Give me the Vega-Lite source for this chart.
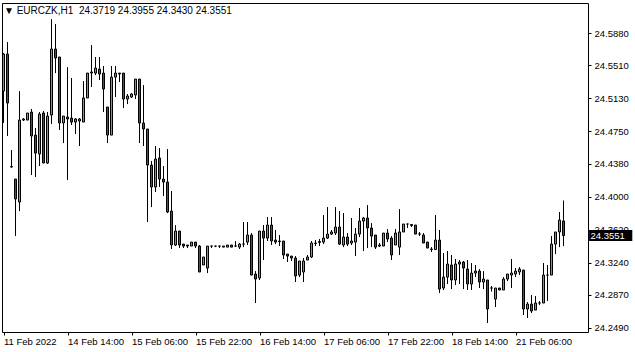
{
 "$schema": "https://vega.github.io/schema/vega-lite/v6.json",
 "width": 586, "height": 329,
 "autosize": {"type": "none"},
 "padding": {"left": 2, "top": 3, "right": 47, "bottom": 20},
 "background": "white",
 "config": {"view": {"stroke": "black", "strokeWidth": 1}, "font": "Liberation Sans", "scale": {"continuousPadding": 0}},
 "title": {"text": "▼ EURCZK,H1\u00a0\u00a024.3719 24.3955 24.3430 24.3551", "anchor": "start", "frame": "group", "offset": -13, "fontSize": 10, "fontWeight": "normal", "color": "black", "dx": 2},
 "data": {"values": [
{"i":0,"o":24.5215,"h":24.5653,"l":24.4847,"c":24.5641},
{"i":1,"o":24.5641,"h":24.5779,"l":24.4697,"c":24.5077},
{"i":2,"o":24.4340,"h":24.4536,"l":24.4334,"c":24.4345},
{"i":3,"o":24.4202,"h":24.4202,"l":24.3545,"c":24.3972},
{"i":4,"o":24.3937,"h":24.5215,"l":24.3833,"c":24.4881},
{"i":5,"o":24.4881,"h":24.4904,"l":24.4870,"c":24.4893},
{"i":6,"o":24.4881,"h":24.4962,"l":24.4881,"c":24.4962},
{"i":7,"o":24.4973,"h":24.5008,"l":24.4248,"c":24.4697},
{"i":8,"o":24.4708,"h":24.4789,"l":24.4225,"c":24.4501},
{"i":9,"o":24.4490,"h":24.4973,"l":24.4352,"c":24.4950},
{"i":10,"o":24.4962,"h":24.4985,"l":24.4386,"c":24.4386},
{"i":11,"o":24.4386,"h":24.4973,"l":24.4375,"c":24.4927},
{"i":12,"o":24.4939,"h":24.6044,"l":24.4835,"c":24.5699},
{"i":13,"o":24.5699,"h":24.5987,"l":24.5422,"c":24.5595},
{"i":14,"o":24.5607,"h":24.5607,"l":24.4766,"c":24.4847},
{"i":15,"o":24.4847,"h":24.4927,"l":24.4616,"c":24.4927},
{"i":16,"o":24.4916,"h":24.5491,"l":24.4190,"c":24.4893},
{"i":17,"o":24.4904,"h":24.5365,"l":24.4824,"c":24.4858},
{"i":18,"o":24.4858,"h":24.4904,"l":24.4720,"c":24.4893},
{"i":19,"o":24.4870,"h":24.4904,"l":24.4582,"c":24.4893},
{"i":20,"o":24.4858,"h":24.5330,"l":24.4858,"c":24.5135},
{"i":21,"o":24.5135,"h":24.5422,"l":24.5135,"c":24.5422},
{"i":22,"o":24.5422,"h":24.5745,"l":24.5261,"c":24.5434},
{"i":23,"o":24.5422,"h":24.5607,"l":24.5399,"c":24.5480},
{"i":24,"o":24.5468,"h":24.5607,"l":24.5342,"c":24.5411},
{"i":25,"o":24.5422,"h":24.5503,"l":24.4973,"c":24.5238},
{"i":26,"o":24.5031,"h":24.5031,"l":24.4616,"c":24.4708},
{"i":27,"o":24.4708,"h":24.5503,"l":24.4708,"c":24.5376},
{"i":28,"o":24.5376,"h":24.5503,"l":24.5146,"c":24.5422},
{"i":29,"o":24.5422,"h":24.5422,"l":24.5319,"c":24.5411},
{"i":30,"o":24.5422,"h":24.5422,"l":24.5019,"c":24.5123},
{"i":31,"o":24.5123,"h":24.5181,"l":24.5065,"c":24.5158},
{"i":32,"o":24.5146,"h":24.5192,"l":24.5135,"c":24.5181},
{"i":33,"o":24.5169,"h":24.5353,"l":24.5123,"c":24.5353},
{"i":34,"o":24.5353,"h":24.5353,"l":24.4616,"c":24.4847},
{"i":35,"o":24.4847,"h":24.5284,"l":24.4582,"c":24.4778},
{"i":36,"o":24.4778,"h":24.4778,"l":24.3707,"c":24.4363},
{"i":37,"o":24.4363,"h":24.4409,"l":24.3879,"c":24.4110},
{"i":38,"o":24.4110,"h":24.4582,"l":24.4052,"c":24.4432},
{"i":39,"o":24.4444,"h":24.4559,"l":24.4110,"c":24.4202},
{"i":40,"o":24.4202,"h":24.4352,"l":24.4006,"c":24.4167},
{"i":41,"o":24.4167,"h":24.4547,"l":24.3810,"c":24.3822},
{"i":42,"o":24.3833,"h":24.4064,"l":24.3396,"c":24.3442},
{"i":43,"o":24.3442,"h":24.3672,"l":24.3430,"c":24.3603},
{"i":44,"o":24.3603,"h":24.3603,"l":24.3407,"c":24.3442},
{"i":45,"o":24.3453,"h":24.3453,"l":24.3407,"c":24.3430},
{"i":46,"o":24.3442,"h":24.3442,"l":24.3407,"c":24.3430},
{"i":47,"o":24.3430,"h":24.3476,"l":24.3430,"c":24.3476},
{"i":48,"o":24.3476,"h":24.3476,"l":24.3407,"c":24.3430},
{"i":49,"o":24.3430,"h":24.3442,"l":24.3131,"c":24.3131},
{"i":50,"o":24.3212,"h":24.3304,"l":24.3212,"c":24.3304},
{"i":51,"o":24.3177,"h":24.3430,"l":24.3119,"c":24.3430},
{"i":52,"o":24.3430,"h":24.3430,"l":24.3407,"c":24.3430},
{"i":53,"o":24.3430,"h":24.3430,"l":24.3418,"c":24.3430},
{"i":54,"o":24.3430,"h":24.3430,"l":24.3407,"c":24.3430},
{"i":55,"o":24.3418,"h":24.3430,"l":24.3418,"c":24.3430},
{"i":56,"o":24.3418,"h":24.3442,"l":24.3418,"c":24.3442},
{"i":57,"o":24.3442,"h":24.3442,"l":24.3418,"c":24.3418},
{"i":58,"o":24.3430,"h":24.3488,"l":24.3418,"c":24.3430},
{"i":59,"o":24.3418,"h":24.3465,"l":24.3396,"c":24.3453},
{"i":60,"o":24.3453,"h":24.3707,"l":24.3418,"c":24.3453},
{"i":61,"o":24.3476,"h":24.3707,"l":24.3442,"c":24.3557},
{"i":62,"o":24.3557,"h":24.3580,"l":24.3096,"c":24.3096},
{"i":63,"o":24.3108,"h":24.3142,"l":24.2774,"c":24.3050},
{"i":64,"o":24.3062,"h":24.3603,"l":24.3039,"c":24.3603},
{"i":65,"o":24.3603,"h":24.3672,"l":24.3269,"c":24.3522},
{"i":66,"o":24.3522,"h":24.3764,"l":24.3488,"c":24.3672},
{"i":67,"o":24.3672,"h":24.3764,"l":24.3442,"c":24.3488},
{"i":68,"o":24.3499,"h":24.3615,"l":24.3453,"c":24.3476},
{"i":69,"o":24.3488,"h":24.3557,"l":24.3430,"c":24.3482},
{"i":70,"o":24.3488,"h":24.3488,"l":24.3281,"c":24.3327},
{"i":71,"o":24.3338,"h":24.3338,"l":24.3246,"c":24.3315},
{"i":72,"o":24.3315,"h":24.3315,"l":24.3258,"c":24.3292},
{"i":73,"o":24.3292,"h":24.3315,"l":24.3016,"c":24.3085},
{"i":74,"o":24.3096,"h":24.3258,"l":24.3073,"c":24.3258},
{"i":75,"o":24.3131,"h":24.3292,"l":24.3016,"c":24.3258},
{"i":76,"o":24.3269,"h":24.3327,"l":24.3269,"c":24.3304},
{"i":77,"o":24.3304,"h":24.3488,"l":24.3292,"c":24.3465},
{"i":78,"o":24.3459,"h":24.3499,"l":24.3430,"c":24.3465},
{"i":79,"o":24.3471,"h":24.3511,"l":24.3430,"c":24.3482},
{"i":80,"o":24.3476,"h":24.3787,"l":24.3453,"c":24.3522},
{"i":81,"o":24.3522,"h":24.3879,"l":24.3511,"c":24.3568},
{"i":82,"o":24.3568,"h":24.3615,"l":24.3557,"c":24.3592},
{"i":83,"o":24.3580,"h":24.3879,"l":24.3557,"c":24.3649},
{"i":84,"o":24.3649,"h":24.3833,"l":24.3442,"c":24.3453},
{"i":85,"o":24.3442,"h":24.3810,"l":24.3418,"c":24.3534},
{"i":86,"o":24.3534,"h":24.3580,"l":24.3430,"c":24.3453},
{"i":87,"o":24.3465,"h":24.3753,"l":24.3442,"c":24.3488},
{"i":88,"o":24.3476,"h":24.3638,"l":24.3315,"c":24.3568},
{"i":89,"o":24.3568,"h":24.3868,"l":24.3534,"c":24.3718},
{"i":90,"o":24.3718,"h":24.3764,"l":24.3373,"c":24.3753},
{"i":91,"o":24.3753,"h":24.3902,"l":24.3407,"c":24.3638},
{"i":92,"o":24.3638,"h":24.3695,"l":24.3418,"c":24.3545},
{"i":93,"o":24.3557,"h":24.3557,"l":24.3396,"c":24.3418},
{"i":94,"o":24.3430,"h":24.3465,"l":24.3418,"c":24.3442},
{"i":95,"o":24.3430,"h":24.3580,"l":24.3430,"c":24.3580},
{"i":96,"o":24.3580,"h":24.3626,"l":24.3476,"c":24.3511},
{"i":97,"o":24.3522,"h":24.3545,"l":24.3269,"c":24.3327},
{"i":98,"o":24.3442,"h":24.3626,"l":24.3442,"c":24.3580},
{"i":99,"o":24.3418,"h":24.3856,"l":24.3327,"c":24.3592},
{"i":100,"o":24.3592,"h":24.3684,"l":24.3592,"c":24.3684},
{"i":101,"o":24.3684,"h":24.3684,"l":24.3638,"c":24.3684},
{"i":102,"o":24.3678,"h":24.3684,"l":24.3649,"c":24.3666},
{"i":103,"o":24.3672,"h":24.3672,"l":24.3568,"c":24.3568},
{"i":104,"o":24.3568,"h":24.3592,"l":24.3545,"c":24.3568},
{"i":105,"o":24.3557,"h":24.3580,"l":24.3465,"c":24.3465},
{"i":106,"o":24.3476,"h":24.3476,"l":24.3407,"c":24.3407},
{"i":107,"o":24.3396,"h":24.3418,"l":24.3361,"c":24.3390},
{"i":108,"o":24.3390,"h":24.3787,"l":24.3384,"c":24.3499},
{"i":109,"o":24.3499,"h":24.3615,"l":24.2889,"c":24.2935},
{"i":110,"o":24.2947,"h":24.3350,"l":24.2924,"c":24.3073},
{"i":111,"o":24.3073,"h":24.3373,"l":24.2993,"c":24.3223},
{"i":112,"o":24.3212,"h":24.3327,"l":24.2935,"c":24.3039},
{"i":113,"o":24.3039,"h":24.3281,"l":24.2981,"c":24.3223},
{"i":114,"o":24.3223,"h":24.3269,"l":24.2993,"c":24.3246},
{"i":115,"o":24.3246,"h":24.3258,"l":24.2935,"c":24.3177},
{"i":116,"o":24.3165,"h":24.3269,"l":24.2924,"c":24.2993},
{"i":117,"o":24.2993,"h":24.3235,"l":24.2924,"c":24.3119},
{"i":118,"o":24.3119,"h":24.3212,"l":24.3073,"c":24.3142},
{"i":119,"o":24.3142,"h":24.3165,"l":24.2947,"c":24.3016},
{"i":120,"o":24.3016,"h":24.3142,"l":24.2935,"c":24.3050},
{"i":121,"o":24.3039,"h":24.3039,"l":24.2544,"c":24.2705},
{"i":122,"o":24.2947,"h":24.2970,"l":24.2906,"c":24.2947},
{"i":123,"o":24.2820,"h":24.2947,"l":24.2728,"c":24.2947},
{"i":124,"o":24.2947,"h":24.2947,"l":24.2924,"c":24.2924},
{"i":125,"o":24.2924,"h":24.3073,"l":24.2924,"c":24.3050},
{"i":126,"o":24.3050,"h":24.3108,"l":24.3027,"c":24.3108},
{"i":127,"o":24.3096,"h":24.3281,"l":24.2947,"c":24.3119},
{"i":128,"o":24.3108,"h":24.3177,"l":24.3073,"c":24.3142},
{"i":129,"o":24.3131,"h":24.3188,"l":24.3096,"c":24.3165},
{"i":130,"o":24.3154,"h":24.3154,"l":24.2636,"c":24.2705},
{"i":131,"o":24.2705,"h":24.2785,"l":24.2601,"c":24.2762},
{"i":132,"o":24.2762,"h":24.2866,"l":24.2659,"c":24.2682},
{"i":133,"o":24.2693,"h":24.2855,"l":24.2693,"c":24.2774},
{"i":134,"o":24.2774,"h":24.2797,"l":24.2751,"c":24.2774},
{"i":135,"o":24.2774,"h":24.3235,"l":24.2774,"c":24.3096},
{"i":136,"o":24.3096,"h":24.3212,"l":24.2797,"c":24.3096},
{"i":137,"o":24.3096,"h":24.3545,"l":24.3096,"c":24.3453},
{"i":138,"o":24.3453,"h":24.3592,"l":24.3338,"c":24.3592},
{"i":139,"o":24.3592,"h":24.3822,"l":24.3418,"c":24.3730},
{"i":140,"o":24.3719,"h":24.3955,"l":24.3430,"c":24.3551}
 ]},
 "layer": [
  {"mark": {"type": "rule", "color": "black", "strokeWidth": 1},
   "encoding": {
    "x": {"field": "i", "type": "quantitative", "scale": {"domain": [-0.375, 146.125], "nice": false, "zero": false, "padding": 0},
      "axis": {"values": [0,16,32,48,64,80,96,112,128], "tickCount": 30, "labelExpr": "['11 Feb 2022','14 Feb 14:00','15 Feb 06:00','15 Feb 22:00','16 Feb 14:00','17 Feb 06:00','17 Feb 22:00','18 Feb 14:00','21 Feb 06:00'][round(datum.value/16)]", "labelAlign": "left", "labelPadding": 1, "tickSize": 3, "domain": false, "grid": false, "title": null, "labelFontSize": 9.5, "labelColor": "black", "tickColor": "black", "labelFlush": false, "labelOverlap": false, "labelSeparation": 0}},
    "y": {"field": "h", "type": "quantitative", "scale": {"domain": [24.24404, 24.62289], "nice": false, "zero": false, "padding": 0},
      "axis": {"orient": "right", "values": [24.249, 24.287, 24.324, 24.362, 24.4, 24.438, 24.475, 24.513, 24.551, 24.588], "tickCount": 30, "format": ".4f", "tickSize": 3, "labelPadding": 3, "domain": false, "grid": false, "title": null, "labelFontSize": 9.5, "labelColor": "black", "tickColor": "black", "labelOverlap": false, "labelFlush": false, "labelSeparation": 0}},
    "y2": {"field": "l"}
   }},
  {"mark": {"type": "bar", "width": 2, "stroke": "black", "strokeWidth": 1},
   "encoding": {
    "x": {"field": "i", "type": "quantitative"},
    "y": {"field": "o", "type": "quantitative"},
    "y2": {"field": "c"},
    "fill": {"condition": {"test": "datum.c > datum.o", "value": "#32cd32"}, "value": "#dc1414"}
   }},
  {"transform": [{"filter": "datum.i == 140"}],
   "mark": {"type": "bar", "height": 11, "fill": "black", "clip": false},
   "encoding": {"x": {"datum": 146.4}, "x2": {"datum": 157.2}, "y": {"field": "c", "type": "quantitative"}}},
  {"transform": [{"filter": "datum.i == 140"}],
   "mark": {"type": "text", "align": "left", "baseline": "middle", "color": "white", "fontSize": 9.5, "dx": 1},
   "encoding": {"x": {"datum": 146.5}, "y": {"field": "c", "type": "quantitative"}, "text": {"field": "c", "type": "quantitative", "format": ".4f"}}}
 ]
}
